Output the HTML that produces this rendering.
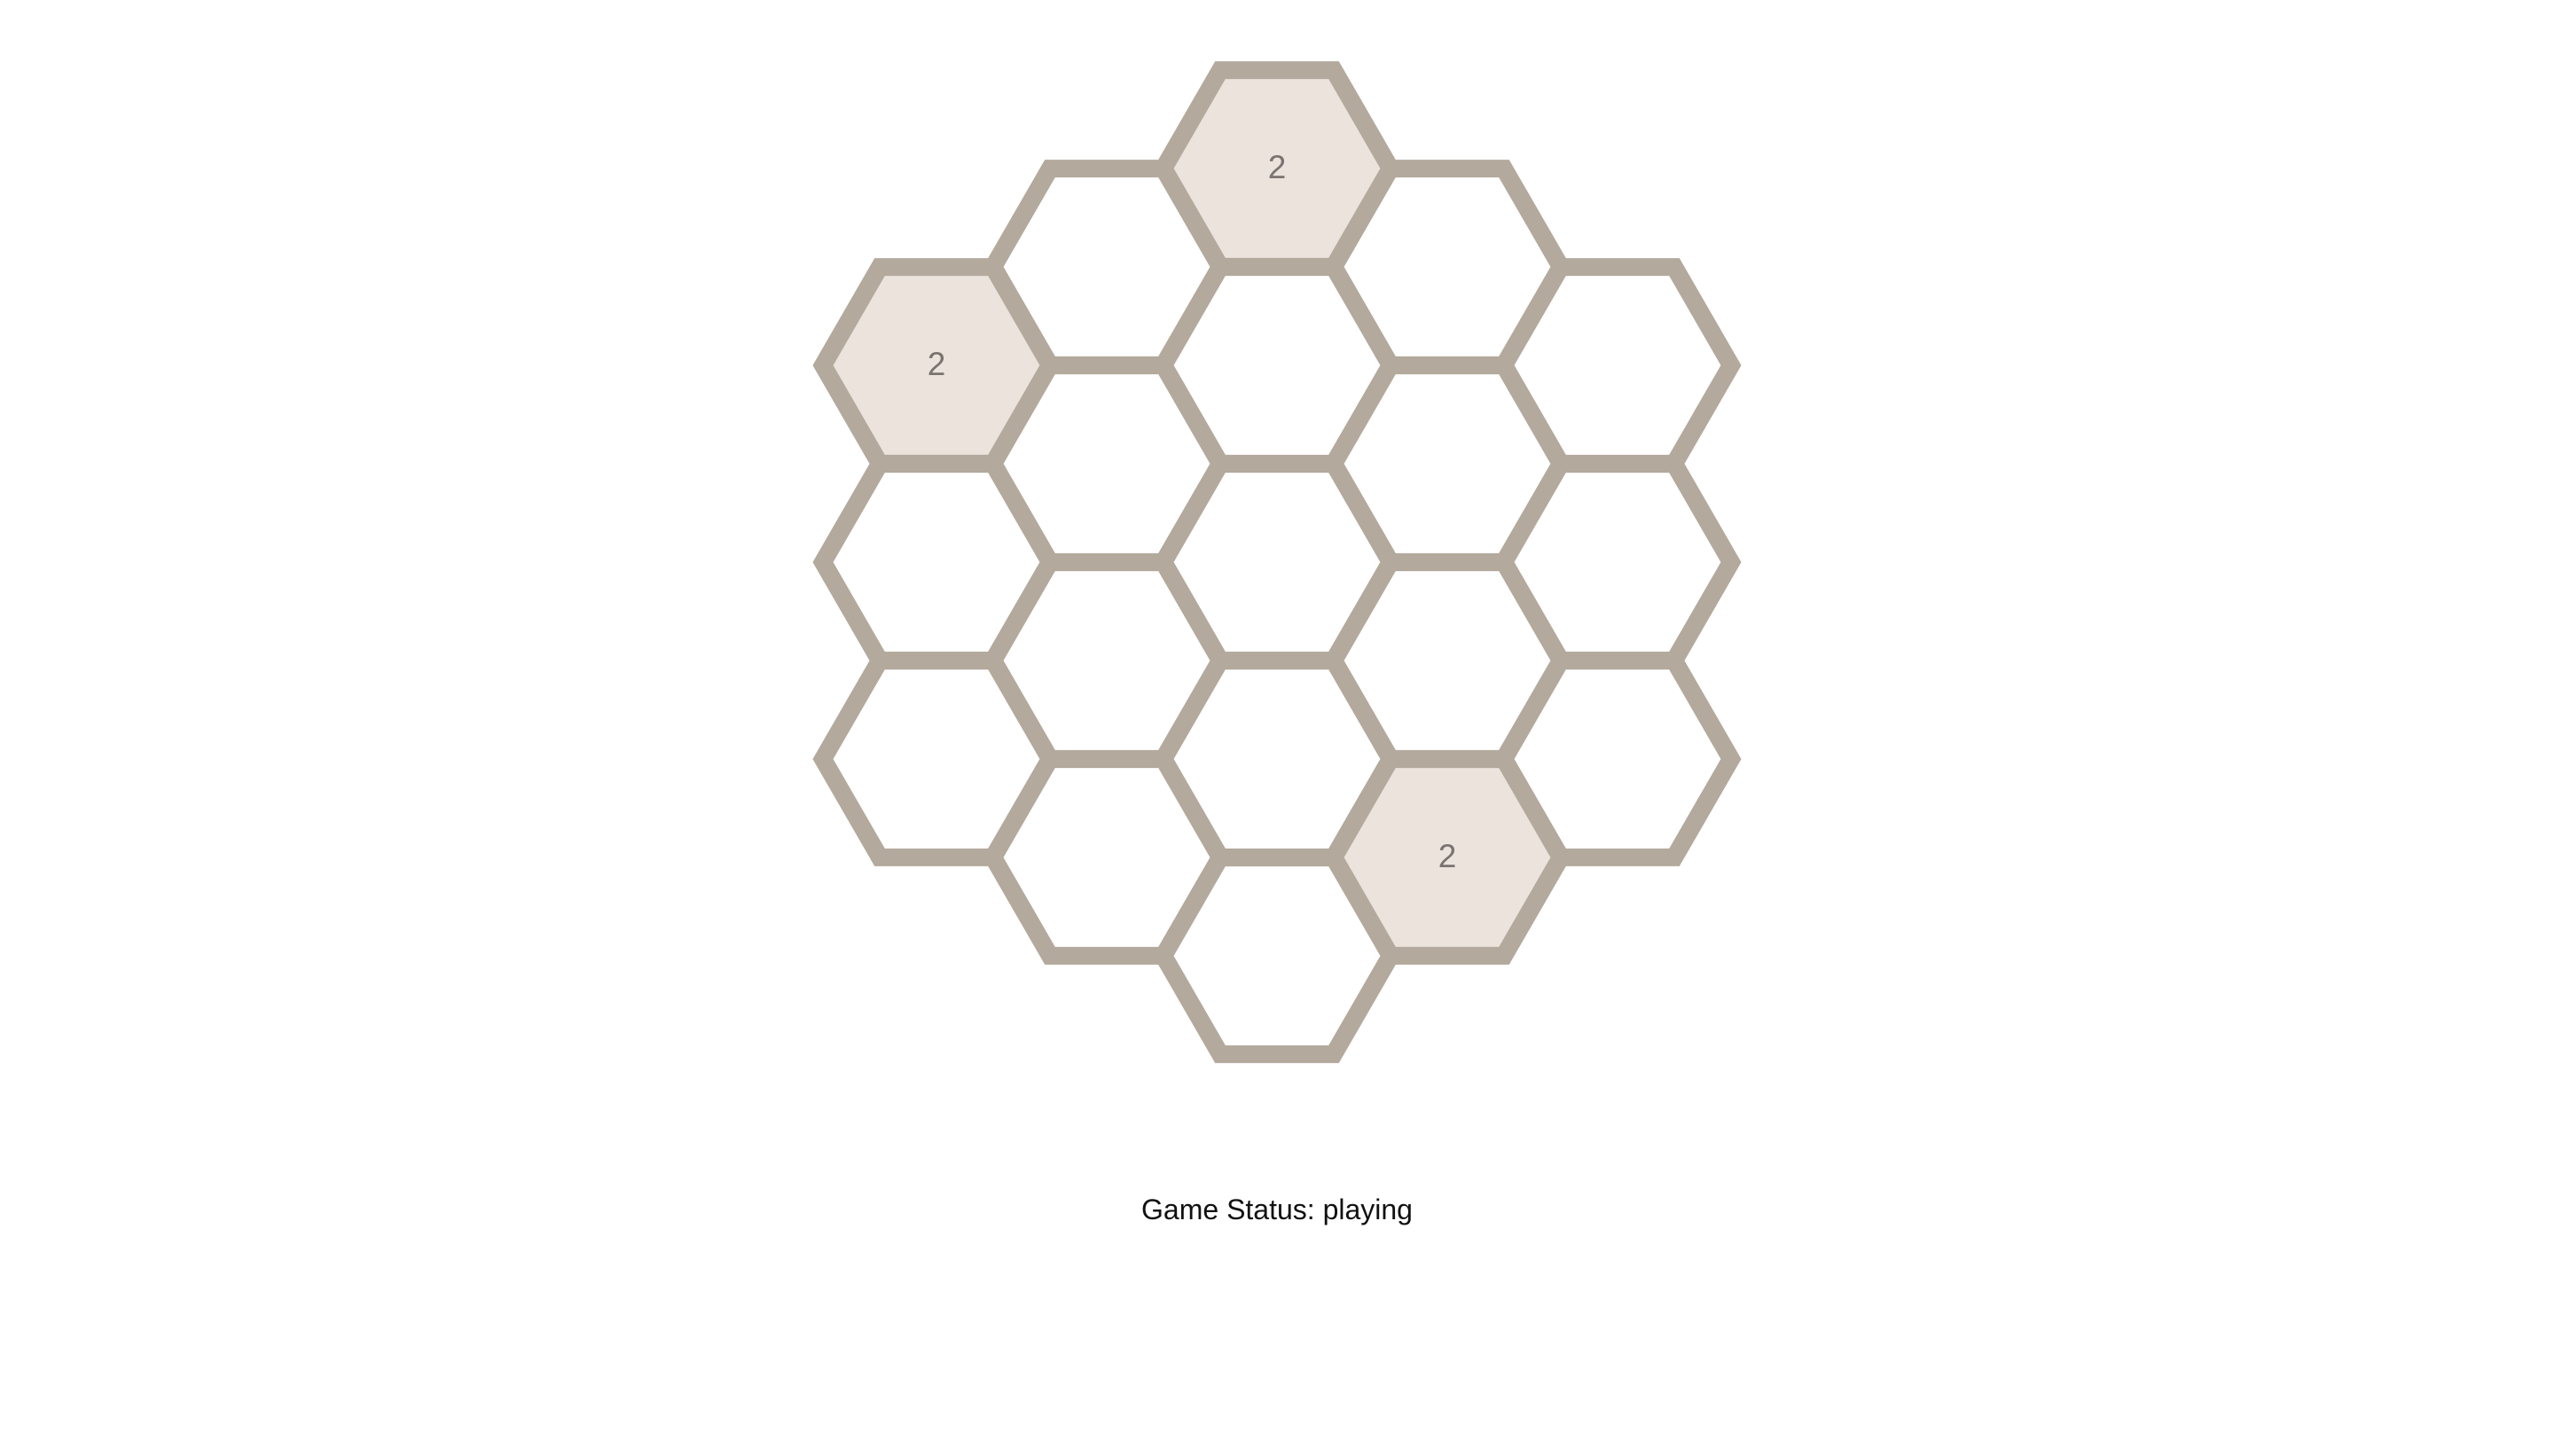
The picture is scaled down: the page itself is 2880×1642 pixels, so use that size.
<!DOCTYPE html>
<html><head><meta charset="utf-8"><style>
html,body{margin:0;padding:0;background:#fff;}
body{width:2880px;height:1642px;position:relative;overflow:hidden;font-family:"Liberation Sans",sans-serif;}
#status{position:absolute;left:0;width:2880px;top:1346px;text-align:center;font-size:32px;color:#111;}
</style></head><body>
<svg id="board" width="2880" height="1300" style="position:absolute;left:0;top:0"></svg>
<div id="status">Game Status: playing</div>
<script>
const cellQ=[0,1,2,-1,0,1,2,-2,-1,0,1,2,-2,-1,0,1,-2,-1,0];
const cellR=[-2,-2,-2,-1,-1,-1,-1,0,0,0,0,0,1,1,1,1,2,2,2];
const revealedQ=[0,-2,1];
const revealedR=[-2,0,1];
const revealedVal=[2,2,2];
const R=128, CX=1440, CY=634, DX=192, DY=222;
const svg=document.getElementById('board');
const ns='http://www.w3.org/2000/svg';
function cx(q){return CX+DX*q;}
function cy(q,r){return CY+DY*(r+q/2);}
for(let i=0;i<cellQ.length;i++){
  const q=cellQ[i], r=cellR[i];
  const x=cx(q), y=cy(q,r);
  let k=-1;
  for(let j=0;j<revealedQ.length;j++) if(revealedQ[j]===q&&revealedR[j]===r) k=j;
  const g=document.createElementNS(ns,'g');
  
  
  const p=document.createElementNS(ns,'polygon');
  const pts=[];
  for(let a=0;a<6;a++){const t=Math.PI/3*a;pts.push((x+R*Math.cos(t)).toFixed(1)+','+(y+R*Math.sin(t)).toFixed(1));}
  p.setAttribute('points',pts.join(' '));
  p.setAttribute('fill',k>=0?'#ebe3dc':'#ffffff');
  p.setAttribute('stroke','#b3a99c');
  p.setAttribute('stroke-width','20');
  p.setAttribute('stroke-linejoin','miter');
  
  
  g.appendChild(p);
  svg.appendChild(g);
}
for(let j=0;j<revealedQ.length;j++){
  const t=document.createElementNS(ns,'text');
  t.setAttribute('x',cx(revealedQ[j]));
  t.setAttribute('y',cy(revealedQ[j],revealedR[j])+11);
  t.setAttribute('text-anchor','middle');
  t.setAttribute('font-size','37');
  t.setAttribute('font-family','Liberation Sans, sans-serif');
  t.setAttribute('fill','#7a7370');
  
  
  t.textContent=revealedVal[j];
  svg.appendChild(t);
}
</script>
</body></html>
